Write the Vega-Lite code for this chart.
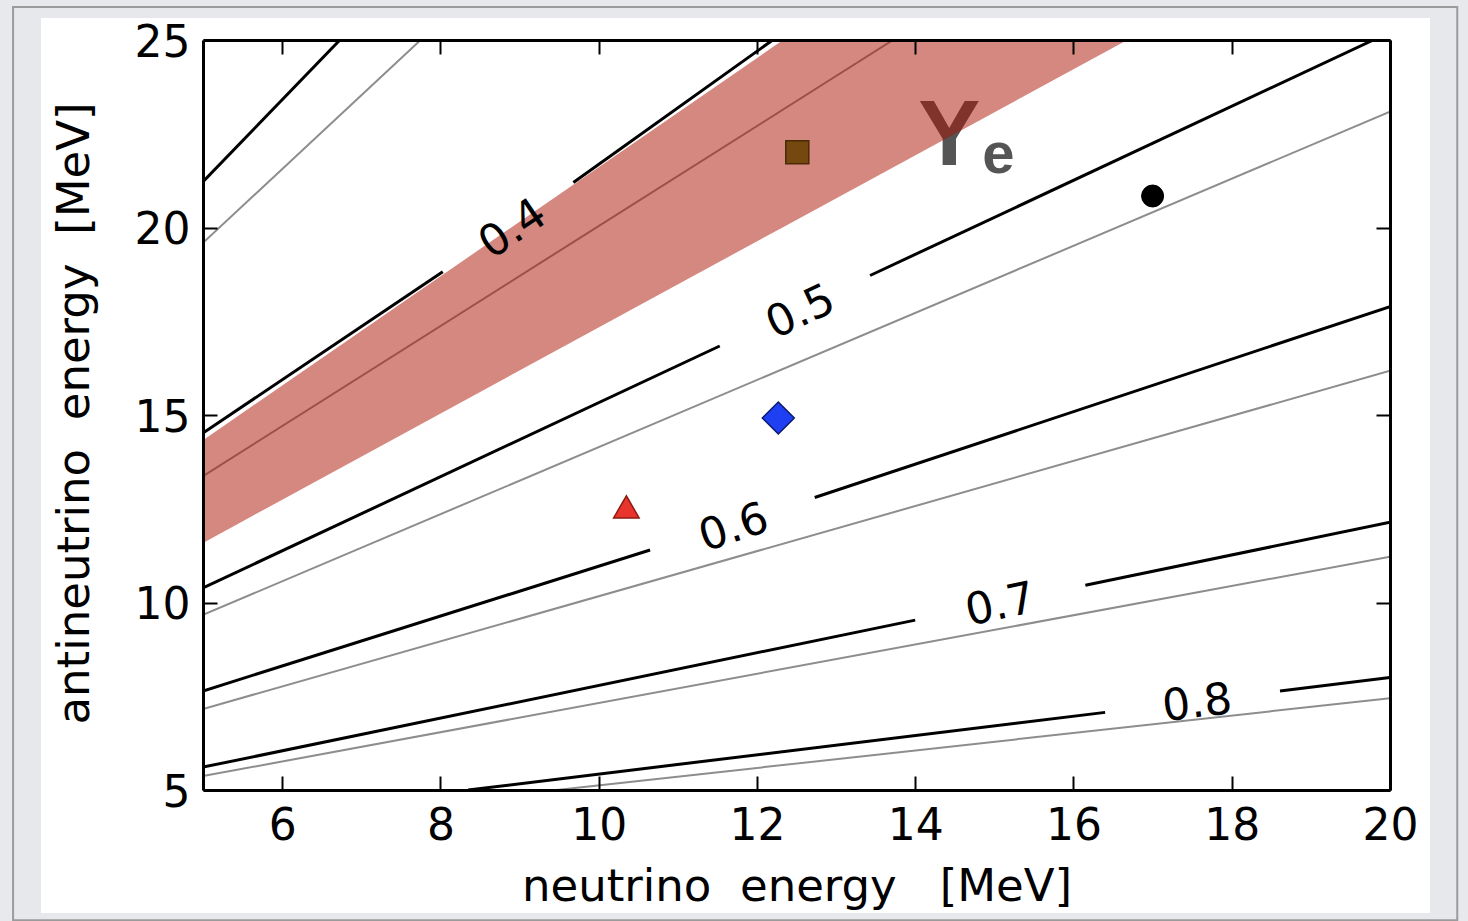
{
  "$schema": "https://vega.github.io/schema/vega-lite/v6.json",
  "width": 1187,
  "height": 750,
  "autosize": {"type": "none"},
  "padding": {"left": 203, "top": 40, "right": 78, "bottom": 131},
  "background": "#e7e9ec",
  "config": {
    "view": {"stroke": null},
    "axis": {
      "grid": false, "domainColor": "#000", "domainWidth": 3,
      "tickColor": "#000", "tickWidth": 2, "tickSize": -14,
      "labelFont": "DejaVu Sans", "labelFontSize": 44, "labelColor": "#000",
      "titleFont": "DejaVu Sans", "titleFontSize": 45, "titleFontWeight": "normal", "titleColor": "#000",
      "labelFlush": false, "labelOverlap": false
    }
  },
  "datasets": {
    "one": [{"note": "frame"}],
    "grey": [
      {"id": "g1", "x": 5, "y": 19.59}, {"id": "g1", "x": 7.75, "y": 25},
      {"id": "g2", "x": 5, "y": 13.37}, {"id": "g2", "x": 13.72, "y": 25},
      {"id": "g3", "x": 5, "y": 9.67}, {"id": "g3", "x": 20, "y": 23.09},
      {"id": "g4", "x": 5, "y": 7.16}, {"id": "g4", "x": 20, "y": 16.18},
      {"id": "g5", "x": 5, "y": 5.37}, {"id": "g5", "x": 20, "y": 11.22},
      {"id": "g6", "x": 9.47, "y": 5}, {"id": "g6", "x": 20, "y": 7.45}
    ],
    "black": [
      {"seg": "bA", "x": 5, "y": 21.22}, {"seg": "bA", "x": 6.73, "y": 25},
      {"seg": "b4a", "x": 5, "y": 14.52}, {"seg": "b4a", "x": 8.03, "y": 18.82},
      {"seg": "b4b", "x": 9.68, "y": 21.2}, {"seg": "b4b", "x": 12.2, "y": 25},
      {"seg": "b5a", "x": 5, "y": 10.39}, {"seg": "b5a", "x": 11.53, "y": 16.84},
      {"seg": "b5b", "x": 13.43, "y": 18.72}, {"seg": "b5b", "x": 19.79, "y": 25},
      {"seg": "b6a", "x": 5, "y": 7.64}, {"seg": "b6a", "x": 10.65, "y": 11.4},
      {"seg": "b6b", "x": 12.73, "y": 12.8}, {"seg": "b6b", "x": 20, "y": 17.89},
      {"seg": "b7a", "x": 5, "y": 5.61}, {"seg": "b7a", "x": 14.0, "y": 9.53},
      {"seg": "b7b", "x": 16.15, "y": 10.46}, {"seg": "b7b", "x": 20, "y": 12.14},
      {"seg": "b8a", "x": 8.35, "y": 5}, {"seg": "b8a", "x": 16.4, "y": 7.07},
      {"seg": "b8b", "x": 18.61, "y": 7.64}, {"seg": "b8b", "x": 20, "y": 8.0}
    ],
    "band": [
      {"x": 5, "lo": 11.59, "hi": 14.33},
      {"x": 12.33, "lo": 20.01, "hi": 25},
      {"x": 16.68, "lo": 25, "hi": 25}
    ],
    "markers": [
      {"marker": "square", "x": 12.51, "y": 22.01},
      {"marker": "circle", "x": 17.0, "y": 20.84},
      {"marker": "diamond", "x": 12.27, "y": 14.92},
      {"marker": "triangle", "x": 10.35, "y": 12.55}
    ],
    "labels": [
      {"label": "0.4", "x": 8.9, "y": 20.01},
      {"label": "0.5", "x": 12.54, "y": 17.8},
      {"label": "0.6", "x": 11.7, "y": 12.05},
      {"label": "0.7", "x": 15.07, "y": 9.99},
      {"label": "0.8", "x": 17.56, "y": 7.37}
    ]
  },
  "resolve": {"axis": {"x": "independent", "y": "independent"}},
  "layer": [
    {
      "data": {"name": "one"},
      "mark": {"type": "rect", "fill": "#e6e8eb", "stroke": "#9b9b9b", "strokeWidth": 2, "clip": false},
      "encoding": {
        "x": {"datum": 2.6, "type": "quantitative", "scale": {"domain": [5, 20], "nice": false, "zero": false}, "axis": null},
        "x2": {"datum": 20.85},
        "y": {"datum": 25.88, "type": "quantitative", "scale": {"domain": [5, 25], "nice": false, "zero": false}, "axis": null},
        "y2": {"datum": 1.53}
      }
    },
    {
      "data": {"name": "one"},
      "mark": {"type": "rect", "fill": "#ffffff", "clip": false},
      "encoding": {
        "x": {"datum": 2.953, "type": "quantitative", "scale": {"domain": [5, 20], "nice": false, "zero": false}, "axis": null},
        "x2": {"datum": 20.506},
        "y": {"datum": 25.587, "type": "quantitative", "scale": {"domain": [5, 25], "nice": false, "zero": false}, "axis": null},
        "y2": {"datum": 1.72}
      }
    },
    {
      "data": {"name": "grey"},
      "mark": {"type": "line", "color": "#8d8d8d", "strokeWidth": 2, "clip": true},
      "encoding": {
        "x": {"field": "x", "type": "quantitative", "scale": {"domain": [5, 20], "nice": false, "zero": false},
          "axis": {"orient": "bottom", "zindex": 2, "values": [6, 8, 10, 12, 14, 16, 18, 20], "labelPadding": 28,
            "title": "neutrino\u00a0\u00a0energy\u00a0\u00a0\u00a0[MeV]", "titleY": 110, "titleBaseline": "alphabetic"}},
        "y": {"field": "y", "type": "quantitative", "scale": {"domain": [5, 25], "nice": false, "zero": false},
          "axis": {"orient": "left", "zindex": 2, "values": [5, 10, 15, 20, 25], "labelPadding": 27, "labelOffset": 3,
            "title": "antineutrino\u00a0\u00a0energy\u00a0\u00a0[MeV]", "titleX": -115, "titleY": 373, "titleAngle": -90,
            "titleBaseline": "alphabetic", "titleAlign": "center"}},
        "detail": {"field": "id"}
      }
    },
    {
      "data": {"name": "black"},
      "mark": {"type": "line", "color": "#000000", "strokeWidth": 3, "clip": true},
      "encoding": {
        "x": {"field": "x", "type": "quantitative", "scale": {"domain": [5, 20], "nice": false, "zero": false},
          "axis": {"orient": "top", "zindex": 2, "values": [6, 8, 10, 12, 14, 16, 18, 20], "labels": false, "title": null}},
        "y": {"field": "y", "type": "quantitative", "scale": {"domain": [5, 25], "nice": false, "zero": false},
          "axis": {"orient": "right", "zindex": 2, "values": [5, 10, 15, 20, 25], "labels": false, "title": null}},
        "detail": {"field": "seg"}
      }
    },
    {
      "data": {"name": "one"},
      "mark": {"type": "text", "text": "Y", "font": "Liberation Sans", "fontWeight": "bold", "fontSize": 93, "fill": "#555555", "align": "center", "baseline": "alphabetic"},
      "encoding": {
        "x": {"datum": 14.43, "type": "quantitative", "scale": {"domain": [5, 20], "nice": false, "zero": false}, "axis": null},
        "y": {"datum": 21.67, "type": "quantitative", "scale": {"domain": [5, 25], "nice": false, "zero": false}, "axis": null}
      }
    },
    {
      "data": {"name": "one"},
      "mark": {"type": "text", "text": "e", "font": "Liberation Sans", "fontWeight": "bold", "fontSize": 58, "fill": "#555555", "align": "center", "baseline": "alphabetic"},
      "encoding": {
        "x": {"datum": 15.05, "type": "quantitative", "scale": {"domain": [5, 20], "nice": false, "zero": false}, "axis": null},
        "y": {"datum": 21.45, "type": "quantitative", "scale": {"domain": [5, 25], "nice": false, "zero": false}, "axis": null}
      }
    },
    {
      "data": {"name": "band"},
      "mark": {"type": "area", "fill": "#a91100", "fillOpacity": 0.5, "clip": true},
      "encoding": {
        "x": {"field": "x", "type": "quantitative", "scale": {"domain": [5, 20], "nice": false, "zero": false}, "axis": null},
        "y": {"field": "lo", "type": "quantitative", "scale": {"domain": [5, 25], "nice": false, "zero": false}, "axis": null},
        "y2": {"field": "hi"}
      }
    },
    {
      "data": {"name": "markers"},
      "transform": [{"filter": "datum.marker == 'square'"}],
      "mark": {"type": "point", "shape": "square", "size": 529, "filled": true, "fill": "#74480f", "stroke": "#4a2a06", "strokeWidth": 1.5, "opacity": 1},
      "encoding": {
        "x": {"field": "x", "type": "quantitative", "scale": {"domain": [5, 20], "nice": false, "zero": false}, "axis": null},
        "y": {"field": "y", "type": "quantitative", "scale": {"domain": [5, 25], "nice": false, "zero": false}, "axis": null}
      }
    },
    {
      "data": {"name": "markers"},
      "transform": [{"filter": "datum.marker == 'circle'"}],
      "mark": {"type": "point", "shape": "circle", "size": 484, "filled": true, "fill": "#000000", "stroke": "#000000", "strokeWidth": 1, "opacity": 1},
      "encoding": {
        "x": {"field": "x", "type": "quantitative", "scale": {"domain": [5, 20], "nice": false, "zero": false}, "axis": null},
        "y": {"field": "y", "type": "quantitative", "scale": {"domain": [5, 25], "nice": false, "zero": false}, "axis": null}
      }
    },
    {
      "data": {"name": "markers"},
      "transform": [{"filter": "datum.marker == 'diamond'"}],
      "mark": {"type": "point", "shape": "diamond", "size": 1024, "filled": true, "fill": "#1f3ff2", "stroke": "#0c1a6e", "strokeWidth": 1.5, "opacity": 1},
      "encoding": {
        "x": {"field": "x", "type": "quantitative", "scale": {"domain": [5, 20], "nice": false, "zero": false}, "axis": null},
        "y": {"field": "y", "type": "quantitative", "scale": {"domain": [5, 25], "nice": false, "zero": false}, "axis": null}
      }
    },
    {
      "data": {"name": "markers"},
      "transform": [{"filter": "datum.marker == 'triangle'"}],
      "mark": {"type": "point", "shape": "triangle-up", "size": 650, "filled": true, "fill": "#e8342c", "stroke": "#8b1a10", "strokeWidth": 1.5, "opacity": 1},
      "encoding": {
        "x": {"field": "x", "type": "quantitative", "scale": {"domain": [5, 20], "nice": false, "zero": false}, "axis": null},
        "y": {"field": "y", "type": "quantitative", "scale": {"domain": [5, 25], "nice": false, "zero": false}, "axis": null}
      }
    },
    {
      "data": {"name": "labels"},
      "transform": [{"filter": "datum.label == '0.4'"}],
      "mark": {"type": "text", "angle": -34, "font": "DejaVu Sans", "fontSize": 44, "fill": "#000000", "align": "center", "baseline": "middle", "dy": 3},
      "encoding": {
        "x": {"field": "x", "type": "quantitative", "scale": {"domain": [5, 20], "nice": false, "zero": false}, "axis": null},
        "y": {"field": "y", "type": "quantitative", "scale": {"domain": [5, 25], "nice": false, "zero": false}, "axis": null},
        "text": {"field": "label"}
      }
    },
    {
      "data": {"name": "labels"},
      "transform": [{"filter": "datum.label == '0.5'"}],
      "mark": {"type": "text", "angle": -25, "font": "DejaVu Sans", "fontSize": 44, "fill": "#000000", "align": "center", "baseline": "middle", "dy": 3},
      "encoding": {
        "x": {"field": "x", "type": "quantitative", "scale": {"domain": [5, 20], "nice": false, "zero": false}, "axis": null},
        "y": {"field": "y", "type": "quantitative", "scale": {"domain": [5, 25], "nice": false, "zero": false}, "axis": null},
        "text": {"field": "label"}
      }
    },
    {
      "data": {"name": "labels"},
      "transform": [{"filter": "datum.label == '0.6'"}],
      "mark": {"type": "text", "angle": -18, "font": "DejaVu Sans", "fontSize": 44, "fill": "#000000", "align": "center", "baseline": "middle", "dy": 3},
      "encoding": {
        "x": {"field": "x", "type": "quantitative", "scale": {"domain": [5, 20], "nice": false, "zero": false}, "axis": null},
        "y": {"field": "y", "type": "quantitative", "scale": {"domain": [5, 25], "nice": false, "zero": false}, "axis": null},
        "text": {"field": "label"}
      }
    },
    {
      "data": {"name": "labels"},
      "transform": [{"filter": "datum.label == '0.7'"}],
      "mark": {"type": "text", "angle": -12, "font": "DejaVu Sans", "fontSize": 44, "fill": "#000000", "align": "center", "baseline": "middle", "dy": 3},
      "encoding": {
        "x": {"field": "x", "type": "quantitative", "scale": {"domain": [5, 20], "nice": false, "zero": false}, "axis": null},
        "y": {"field": "y", "type": "quantitative", "scale": {"domain": [5, 25], "nice": false, "zero": false}, "axis": null},
        "text": {"field": "label"}
      }
    },
    {
      "data": {"name": "labels"},
      "transform": [{"filter": "datum.label == '0.8'"}],
      "mark": {"type": "text", "angle": -7, "font": "DejaVu Sans", "fontSize": 44, "fill": "#000000", "align": "center", "baseline": "middle", "dy": 3},
      "encoding": {
        "x": {"field": "x", "type": "quantitative", "scale": {"domain": [5, 20], "nice": false, "zero": false}, "axis": null},
        "y": {"field": "y", "type": "quantitative", "scale": {"domain": [5, 25], "nice": false, "zero": false}, "axis": null},
        "text": {"field": "label"}
      }
    }
  ]
}
